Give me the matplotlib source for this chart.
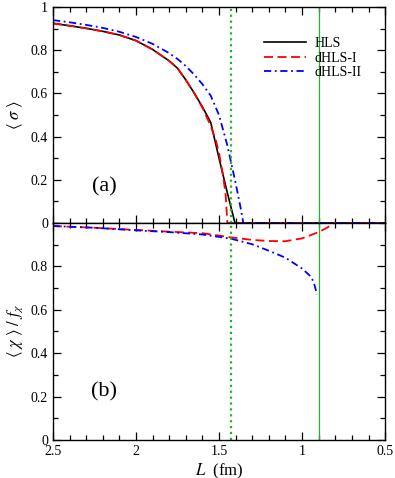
import matplotlib
matplotlib.use("Agg")
import matplotlib.pyplot as plt
from matplotlib.ticker import MultipleLocator, FuncFormatter

plt.rcParams['font.family'] = ['Liberation Serif', 'DejaVu Serif']
plt.rcParams['mathtext.fontset'] = 'stix'

# (a) sigma condensate vs L
L_hls = [2.5, 2.4, 2.3, 2.2, 2.1, 2.0, 1.9, 1.8, 1.75, 1.7, 1.65, 1.6, 1.55, 1.5, 1.45, 1.404, 0.5]
sig_hls = [0.925, 0.914, 0.902, 0.888, 0.871, 0.845, 0.804, 0.751, 0.717, 0.663, 0.603, 0.538, 0.466, 0.30, 0.14, 0.0, 0.0]

L_d1 = [2.5, 2.4, 2.3, 2.2, 2.1, 2.0, 1.9, 1.8, 1.75, 1.7, 1.65, 1.6, 1.55, 1.52, 1.5, 1.475, 1.46, 1.45, 0.5]
sig_d1 = [0.925, 0.914, 0.902, 0.888, 0.871, 0.845, 0.804, 0.751, 0.717, 0.663, 0.602, 0.534, 0.45, 0.385, 0.325, 0.215, 0.13, 0.0, 0.0]

L_d2 = [2.5, 2.4, 2.3, 2.2, 2.1, 2.0, 1.9, 1.8, 1.75, 1.7, 1.65, 1.6, 1.55, 1.5, 1.45, 1.4, 1.37, 1.354, 0.5]
sig_d2 = [0.94, 0.93, 0.918, 0.904, 0.886, 0.862, 0.83, 0.787, 0.76, 0.727, 0.688, 0.643, 0.59, 0.50, 0.36, 0.185, 0.07, 0.0, 0.0]

# (b) dilaton condensate vs L
Lc_d1 = [2.5, 2.25, 2.0, 1.8, 1.6, 1.43, 1.3, 1.2, 1.1, 1.0, 0.9, 0.85, 0.81, 0.5]
chi_d1 = [0.986, 0.978, 0.968, 0.960, 0.953, 0.934, 0.922, 0.917, 0.916, 0.929, 0.958, 0.978, 1.0, 1.0]

Lc_d2 = [2.5, 2.25, 2.0, 1.8, 1.6, 1.43, 1.3, 1.2, 1.1, 1.0, 0.95, 0.93, 0.91]
chi_d2 = [0.986, 0.978, 0.966, 0.958, 0.947, 0.928, 0.902, 0.872, 0.84, 0.79, 0.755, 0.728, 0.67]

L_dot = 1.43
L_solid = 0.9

green = '#22b422'
fmt = FuncFormatter(lambda v, p: '%g' % round(v, 3))

fig = plt.figure(figsize=(3.95, 4.78), dpi=100)
ax1 = fig.add_axes([0.134, 0.5335, 0.841, 0.4515])
ax2 = fig.add_axes([0.134, 0.0795, 0.841, 0.454])

ax1.plot(L_hls, sig_hls, color='black', lw=1.2, label='HLS')
ax1.plot(L_d1, sig_d1, color='red', lw=1.3, dashes=(5, 2.5), label='dHLS-I')
ax1.plot(L_d2, sig_d2, color='blue', lw=1.3, dashes=(4, 2, 1, 2), label='dHLS-II')

ax2.plot(Lc_d1, chi_d1, color='red', lw=1.3, dashes=(5, 2.5))
ax2.plot(Lc_d2, chi_d2, color='blue', lw=1.3, dashes=(4, 2, 1, 2))

for ax in (ax1, ax2):
    ax.axvline(L_dot, color=green, lw=1.6, ls=':')
    ax.axvline(L_solid, color=green, lw=0.9)
    ax.set_xlim(2.5, 0.5)
    ax.set_ylim(0, 1)
    ax.xaxis.set_major_locator(MultipleLocator(0.5))
    ax.xaxis.set_minor_locator(MultipleLocator(0.1))
    ax.yaxis.set_major_locator(MultipleLocator(0.2))
    ax.yaxis.set_minor_locator(MultipleLocator(0.1))
    ax.yaxis.set_major_formatter(fmt)
    ax.xaxis.set_major_formatter(fmt)
    ax.tick_params(which='both', direction='in', top=True, right=True, labelsize=10, width=0.9)
    ax.tick_params(which='major', length=6)
    ax.tick_params(which='minor', length=3.5)
    for s in ax.spines.values():
        s.set_linewidth(1.0)

ax1.tick_params(labelbottom=False)
ax2.set_yticks([0, 0.2, 0.4, 0.6, 0.8])

ax1.set_ylabel(r'$\langle\ \sigma\ \rangle$', fontsize=12, labelpad=4)
ax2.set_ylabel(r'$\langle\ \chi\ \rangle\ /\ f_\chi$', fontsize=12, labelpad=4)
ax2.set_xlabel(r'$L$  (fm)', fontsize=12, labelpad=3)

ax1.text(2.19, 0.167, '(a)', fontsize=16, ha='center', va='center')
ax2.text(2.19, 0.22, '(b)', fontsize=16, ha='center', va='center')

ax1.legend(loc='upper left', bbox_to_anchor=(0.615, 0.893), frameon=False, fontsize=10,
           handlelength=3.0, borderpad=0, labelspacing=0.1, handletextpad=0.6)

plt.savefig('out.png', dpi=100)
